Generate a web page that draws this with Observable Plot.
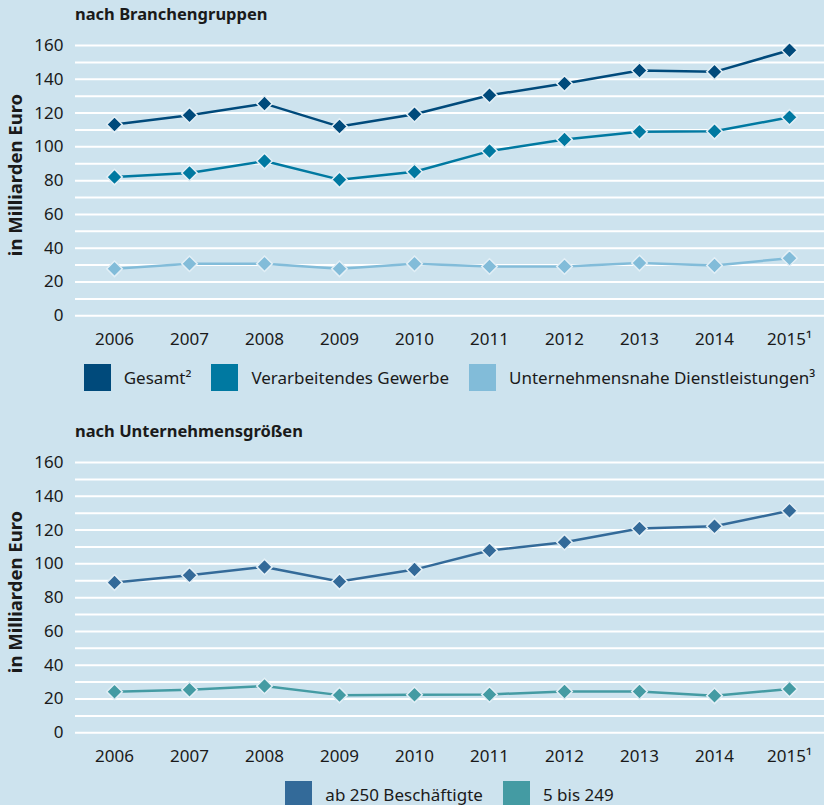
<!DOCTYPE html>
<html><head><meta charset="utf-8">
<script src="https://cdn.jsdelivr.net/npm/d3@7"></script>
<script src="https://cdn.jsdelivr.net/npm/@observablehq/plot@0.6"></script>
<style>
html,body{margin:0;padding:0;background:#cde3ee;}
#wrap{position:relative;width:824px;height:805px;background:#cde3ee;overflow:hidden;font-family:"Noto Sans",sans-serif;color:#1a1a1a;}
.title{position:absolute;left:75px;font-weight:bold;font-size:16.5px;line-height:1;}
.ylab{position:absolute;font-weight:bold;font-size:18.5px;white-space:nowrap;line-height:1;transform:translate(-50%,-50%) rotate(-90deg);}
.chart{position:absolute;left:0;}
.legend{position:absolute;left:75px;width:749px;display:flex;justify-content:center;font-size:17px;line-height:27px;white-space:nowrap;}
.item{display:flex;align-items:center;margin:0 10px;flex:none;}
.sw{width:27px;height:27px;margin-right:13px;flex:none;}
</style>
</head><body><div id="wrap"></div>
<script>
const years = [2006,2007,2008,2009,2010,2011,2012,2013,2014,2015];
const yearLabels = ["2006","2007","2008","2009","2010","2011","2012","2013","2014","2015¹"];
const yTicks = [0,20,40,60,80,100,120,140,160];

const topSeries = ["Gesamt²","Verarbeitendes Gewerbe","Unternehmensnahe Dienstleistungen³"];
const topColors = ["#004a7b","#0079a1","#82bcd9"];
const gesamt = [113.2,118.7,125.6,112.0,119.3,130.5,137.5,145.2,144.4,157.2];
const verarbeitend = [82.1,84.5,91.6,80.6,85.3,97.5,104.3,109.0,109.2,117.5];
const dienstleistung = [27.8,30.8,30.8,27.8,30.8,29.2,29.2,31.2,29.8,34.1];

const botSeries = ["ab 250 Beschäftigte","5 bis 249"];
const botColors = ["#336a99","#449ba3"];
const ab250 = [88.9,93.3,98.2,89.5,96.6,107.9,112.8,120.9,122.3,131.4];
const bis249 = [24.3,25.5,27.7,22.3,22.5,22.7,24.5,24.5,21.9,25.9];

function toRows(names, arrays){
  const rows=[];
  names.forEach((n,i)=>years.forEach((y,j)=>rows.push({series:n,year:y,value:arrays[i][j]})));
  return rows;
}

function makeChart(names, arrays, colors){
  const data = toRows(names, arrays);
  return Plot.plot({
    width: 824, height: 360,
    marginLeft: 75, marginRight: 0, marginTop: 45, marginBottom: 44.7,
    style: {background: "transparent", fontFamily: "Noto Sans", fontSize: "17px", color: "#1a1a1a", overflow: "visible"},
    x: {type: "point", domain: years, range: [75, 828], padding: 0.5},
    y: {domain: [0,160]},
    color: {domain: names, range: colors},
    marks: [
      Plot.ruleY(d3.range(0,161,10), {stroke: "white", strokeWidth: 2}),
      Plot.axisY({ticks: yTicks, tickSize: 0, tickPadding: 12, label: null}),
      Plot.axisX({tickSize: 0, tickPadding: 17, label: null, tickFormat: (d)=>yearLabels[years.indexOf(d)]}),
      Plot.line(data, {x: "year", y: "value", z: "series", stroke: "series", strokeWidth: 2.5}),
      Plot.dot(data, {x: "year", y: "value", fill: "series", symbol: "diamond2", r: 7, stroke: "#e2eff6", strokeWidth: 1.5})
    ]
  });
}

const wrap = document.getElementById("wrap");
function addPanel(offset, title, names, arrays, colors){
  const t = document.createElement("div");
  t.className="title"; t.textContent=title; t.style.top=(offset+6)+"px";
  wrap.appendChild(t);
  const yl = document.createElement("div");
  yl.className="ylab"; yl.textContent="in Milliarden Euro";
  yl.style.left="15px"; yl.style.top=(offset+175)+"px";
  wrap.appendChild(yl);
  const c = makeChart(names, arrays, colors);
  c.classList.add("chart"); c.style.top=offset+"px"; c.style.position="absolute";
  wrap.appendChild(c);
  const lg = document.createElement("div");
  lg.className="legend"; lg.style.top=(offset+364)+"px";
  names.forEach((n,i)=>{
    const it=document.createElement("div"); it.className="item";
    const sw=document.createElement("div"); sw.className="sw"; sw.style.background=colors[i];
    const tx=document.createElement("span"); tx.textContent=n;
    it.appendChild(sw); it.appendChild(tx); lg.appendChild(it);
  });
  wrap.appendChild(lg);
}
addPanel(0, "nach Branchengruppen", topSeries, [gesamt, verarbeitend, dienstleistung], topColors);
addPanel(416.5, "nach Unternehmensgrößen", botSeries, [ab250, bis249], botColors);
</script></body></html>
